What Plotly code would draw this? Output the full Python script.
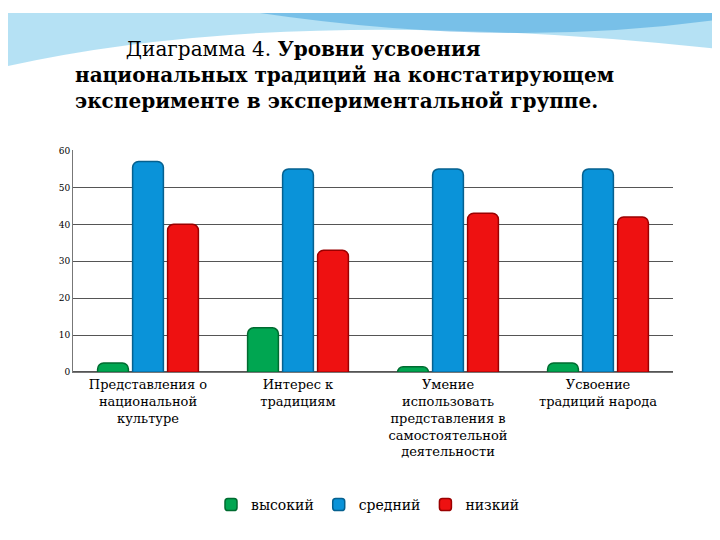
import plotly.graph_objects as go

categories = ["Представления о<br>национальной<br>культуре", "Интерес к<br>традициям",
              "Умение<br>использовать<br>представления в<br>самостоятельной<br>деятельности",
              "Усвоение<br>традиций народа"]
high = [2.5, 12, 1.5, 2.5]
mid = [57, 55, 55, 55]
low = [40, 33, 43, 42]

serif = "DejaVu Serif, Liberation Serif, serif"

fig = go.Figure()
for name, vals, col, edge in [("высокий", high, "#00a651", "#006b30"),
                              ("средний", mid, "#0a93d9", "#05608f"),
                              ("низкий", low, "#ee1111", "#9a0000")]:
    fig.add_trace(go.Bar(x=categories, y=vals, name=name,
                         marker=dict(color=col, line=dict(color=edge, width=1.5), cornerradius=6)))

# decorative swooshes at the top of the slide
fig.add_shape(type="path", xref="paper", yref="paper",
              path="M 0,1 L 0,0.9 Q 0.4,1.02 1,0.93 L 1,1 Z",
              fillcolor="rgba(120,200,235,0.55)", line_width=0, layer="below")
fig.add_shape(type="path", xref="paper", yref="paper",
              path="M 0.35,1 Q 0.7,0.93 1,0.99 L 1,1 Z",
              fillcolor="rgba(60,160,220,0.5)", line_width=0, layer="below")

fig.add_annotation(x=65/720, y=1 - 22/540, xref="paper", yref="paper", xanchor="left", yanchor="top",
                   align="left", showarrow=False,
                   text="        Диаграмма 4. <b>Уровни усвоения</b><br><b>национальных традиций на констатирующем</b><br><b>эксперименте в экспериментальной группе.</b>",
                   font=dict(family=serif, size=20, color="black"))

fig.update_layout(
    width=720, height=540, margin=dict(l=0, r=0, t=0, b=0),
    paper_bgcolor="white", plot_bgcolor="white",
    barmode="group", bargap=0.3, bargroupgap=0.12,
    font=dict(family=serif, color="black"),
    xaxis=dict(domain=[65/720, 665/720], tickfont=dict(size=13), showline=True,
               linecolor="#777", ticks=""),
    yaxis=dict(domain=[1 - 366/540, 1 - 140/540], range=[0, 60], dtick=10,
               tickfont=dict(size=9), showgrid=True, gridcolor="#555", gridwidth=1,
               showline=True, linecolor="#777", zeroline=True, zerolinecolor="#555"),
    legend=dict(orientation="h", x=0.5, xanchor="center", y=1 - 485/540, yanchor="top",
                font=dict(size=14)),
)
fig.write_html("out.html")
